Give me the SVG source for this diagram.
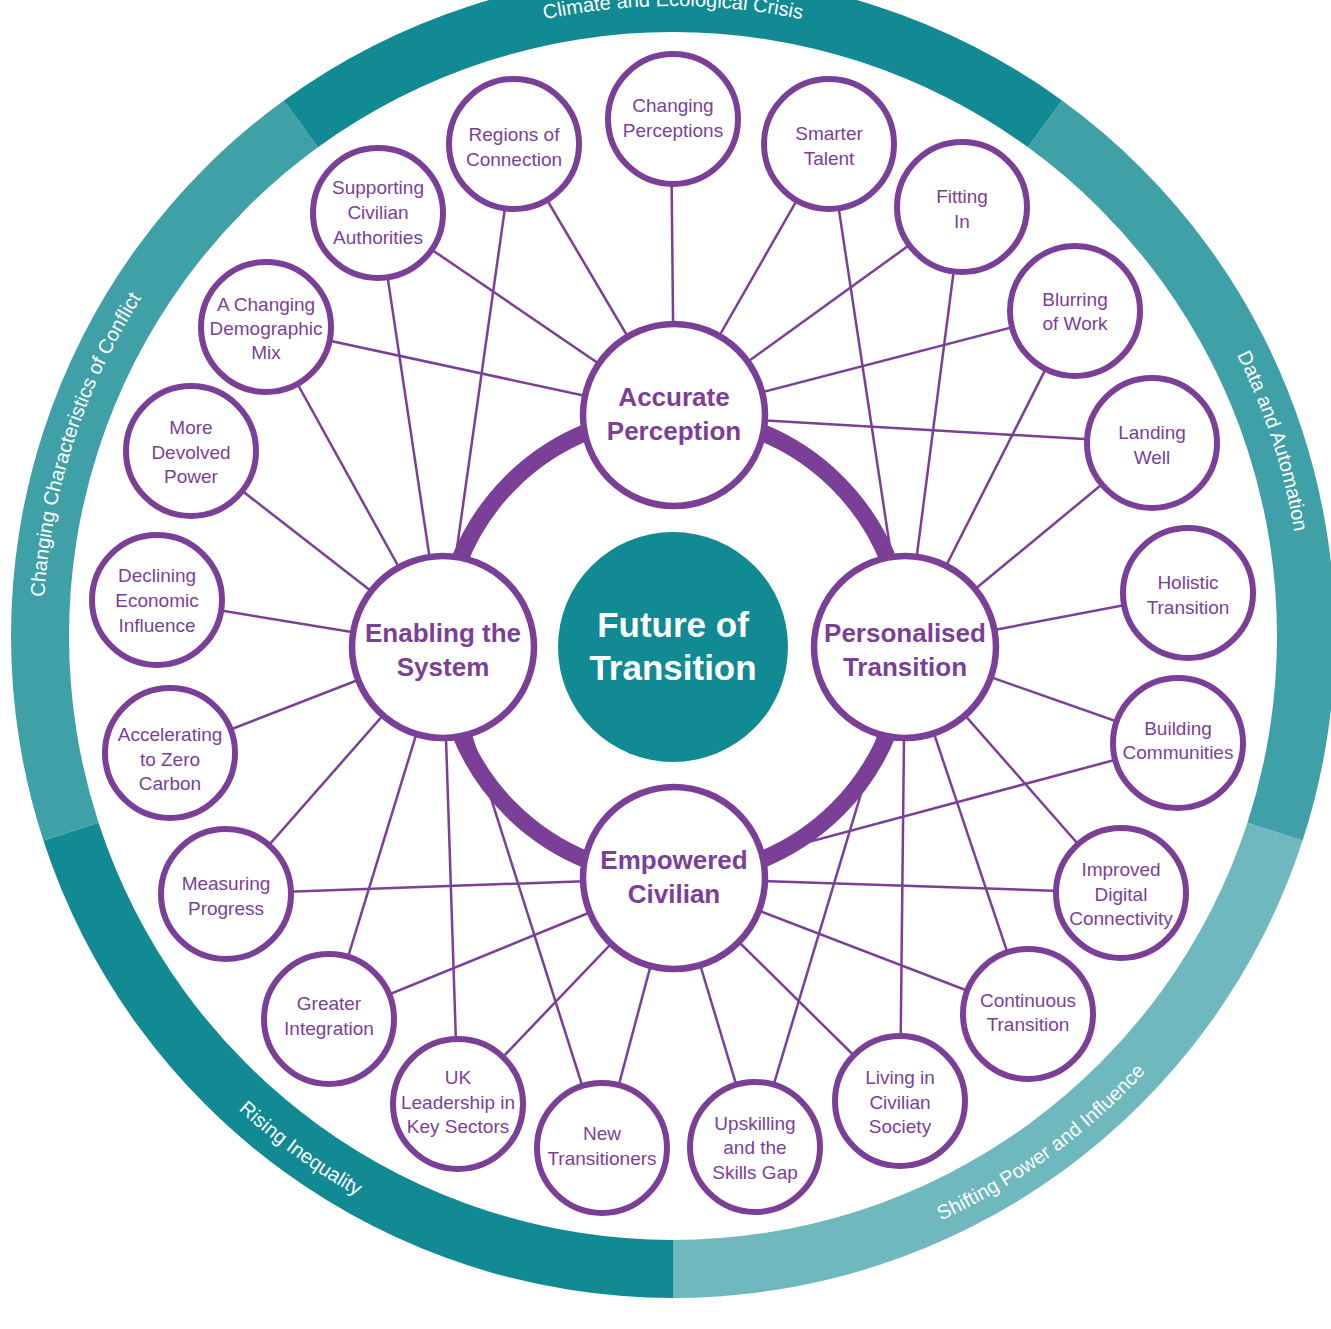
<svg xmlns="http://www.w3.org/2000/svg" width="1331" height="1329" viewBox="0 0 1331 1329">
<defs>
<style>
.seg-dark{fill:#118a94}
.seg-mid{fill:#40a0a8}
.seg-light{fill:#6eb8be}
.arc-label{font-family:"Liberation Sans",Arial,sans-serif;font-size:20px;fill:#ffffff}
.conn{stroke:#7b3f98;stroke-width:2.5;fill:none}
.node circle{fill:#ffffff;stroke:#7b3f98;stroke-width:6}
.node text{font-family:"Liberation Sans",Arial,sans-serif;font-size:19px;fill:#7b3f98;text-anchor:middle}
.hub circle{fill:#ffffff;stroke:#7b3f98;stroke-width:6.5}
.hub text{font-family:"Liberation Sans",Arial,sans-serif;font-size:26px;font-weight:bold;fill:#7b3f98;text-anchor:middle}
.core text{font-family:"Liberation Sans",Arial,sans-serif;font-size:35px;font-weight:bold;fill:#ffffff;text-anchor:middle}
</style>
<path id="p-top" d="M 302.69 126.32 A 630 630 0 0 1 1043.31 126.32"/>
<path id="p-right" d="M 1043.31 126.32 A 630 630 0 0 1 1272.17 830.68"/>
<path id="p-left" d="M 73.83 830.68 A 630 630 0 0 1 302.69 126.32"/>
<path id="p-br" d="M 673 1279 A 643 643 0 0 0 1284.53 834.70"/>
<path id="p-bl" d="M 61.47 834.70 A 643 643 0 0 0 673 1279"/>
</defs>
<rect width="1331" height="1329" fill="#ffffff"/>

<g id="outer-ring">
<path class="seg-light" d="M 1302.60 840.57 A 662 662 0 0 1 673 1298 L 673 1240 A 604 604 0 0 0 1247.44 822.65 Z"/>
<path class="seg-dark" d="M 673 1298 A 662 662 0 0 1 43.40 840.57 L 98.56 822.65 A 604 604 0 0 0 673 1240 Z"/>
<path class="seg-mid" d="M 43.40 840.57 A 662 662 0 0 1 283.88 100.43 L 317.97 147.35 A 604 604 0 0 0 98.56 822.65 Z"/>
<path class="seg-dark" d="M 283.88 100.43 A 662 662 0 0 1 1062.12 100.43 L 1028.03 147.35 A 604 604 0 0 0 317.97 147.35 Z"/>
<path class="seg-mid" d="M 1062.12 100.43 A 662 662 0 0 1 1302.60 840.57 L 1247.44 822.65 A 604 604 0 0 0 1028.03 147.35 Z"/>
<text class="arc-label"><textPath href="#p-top" startOffset="50%" text-anchor="middle">Climate and Ecological Crisis</textPath></text>
<text class="arc-label"><textPath href="#p-right" startOffset="50%" text-anchor="middle">Data and Automation</textPath></text>
<text class="arc-label"><textPath href="#p-left" startOffset="50%" text-anchor="middle">Changing Characteristics of Conflict</textPath></text>
<text class="arc-label"><textPath href="#p-br" startOffset="50%" text-anchor="middle">Shifting Power and Influence</textPath></text>
<text class="arc-label"><textPath href="#p-bl" startOffset="50%" text-anchor="middle">Rising Inequality</textPath></text>
</g>

<circle id="hub-ring" cx="674" cy="646" r="231" fill="none" stroke="#7b3f98" stroke-width="17"/>

<g id="connectors">
<!-- Accurate Perception -->
<line class="conn" x1="674" y1="415" x2="514" y2="144"/>
<line class="conn" x1="674" y1="415" x2="671" y2="119"/>
<line class="conn" x1="674" y1="415" x2="829" y2="144"/>
<line class="conn" x1="674" y1="415" x2="962" y2="207"/>
<line class="conn" x1="674" y1="415" x2="1075" y2="311"/>
<line class="conn" x1="674" y1="415" x2="1152" y2="443"/>
<line class="conn" x1="674" y1="415" x2="378" y2="213"/>
<line class="conn" x1="674" y1="415" x2="266" y2="327"/>
<!-- Enabling the System -->
<line class="conn" x1="443" y1="647" x2="514" y2="144"/>
<line class="conn" x1="443" y1="647" x2="378" y2="213"/>
<line class="conn" x1="443" y1="647" x2="266" y2="327"/>
<line class="conn" x1="443" y1="647" x2="191" y2="451"/>
<line class="conn" x1="443" y1="647" x2="157" y2="600"/>
<line class="conn" x1="443" y1="647" x2="170" y2="753"/>
<line class="conn" x1="443" y1="647" x2="226" y2="894"/>
<line class="conn" x1="443" y1="647" x2="329" y2="1019"/>
<line class="conn" x1="443" y1="647" x2="458" y2="1104"/>
<line class="conn" x1="443" y1="647" x2="602" y2="1148"/>
<!-- Personalised Transition -->
<line class="conn" x1="905" y1="647" x2="829" y2="144"/>
<line class="conn" x1="905" y1="647" x2="962" y2="207"/>
<line class="conn" x1="905" y1="647" x2="1075" y2="311"/>
<line class="conn" x1="905" y1="647" x2="1152" y2="443"/>
<line class="conn" x1="905" y1="647" x2="1188" y2="593"/>
<line class="conn" x1="905" y1="647" x2="1178" y2="743"/>
<line class="conn" x1="905" y1="647" x2="1121" y2="893"/>
<line class="conn" x1="905" y1="647" x2="1028" y2="1014"/>
<line class="conn" x1="905" y1="647" x2="900" y2="1101"/>
<line class="conn" x1="905" y1="647" x2="755" y2="1147"/>
<!-- Empowered Civilian -->
<line class="conn" x1="674" y1="878" x2="226" y2="894"/>
<line class="conn" x1="674" y1="878" x2="329" y2="1019"/>
<line class="conn" x1="674" y1="878" x2="458" y2="1104"/>
<line class="conn" x1="674" y1="878" x2="602" y2="1148"/>
<line class="conn" x1="674" y1="878" x2="755" y2="1147"/>
<line class="conn" x1="674" y1="878" x2="900" y2="1101"/>
<line class="conn" x1="674" y1="878" x2="1028" y2="1014"/>
<line class="conn" x1="674" y1="878" x2="1121" y2="893"/>
<line class="conn" x1="674" y1="878" x2="1178" y2="743"/>
</g>

<g id="core" class="core">
<circle cx="673" cy="647" r="115" fill="#118a94"/>
<text x="673" y="637">Future of</text>
<text x="673" y="680">Transition</text>
</g>

<g id="hub-accurate-perception" class="hub">
<circle cx="674" cy="415" r="91"/>
<text x="674" y="406">Accurate</text>
<text x="674" y="440">Perception</text>
</g>
<g id="hub-enabling-the-system" class="hub">
<circle cx="443" cy="647" r="91"/>
<text x="443" y="642">Enabling the</text>
<text x="443" y="676">System</text>
</g>
<g id="hub-personalised-transition" class="hub">
<circle cx="905" cy="647" r="91"/>
<text x="905" y="642">Personalised</text>
<text x="905" y="676">Transition</text>
</g>
<g id="hub-empowered-civilian" class="hub">
<circle cx="674" cy="878" r="91"/>
<text x="674" y="869">Empowered</text>
<text x="674" y="903">Civilian</text>
</g>

<g id="node-changing-perceptions" class="node">
<circle cx="673" cy="119" r="65"/>
<text x="673" y="112">Changing</text><text x="673" y="137">Perceptions</text>
</g>
<g id="node-regions-of-connection" class="node">
<circle cx="514" cy="144" r="65"/>
<text x="514" y="141">Regions of</text><text x="514" y="166">Connection</text>
</g>
<g id="node-smarter-talent" class="node">
<circle cx="829" cy="144" r="65"/>
<text x="829" y="140">Smarter</text><text x="829" y="165">Talent</text>
</g>
<g id="node-supporting-civilian-authorities" class="node">
<circle cx="378" cy="213" r="65"/>
<text x="378" y="194">Supporting</text><text x="378" y="219">Civilian</text><text x="378" y="244">Authorities</text>
</g>
<g id="node-fitting-in" class="node">
<circle cx="962" cy="207" r="65"/>
<text x="962" y="203">Fitting</text><text x="962" y="228">In</text>
</g>
<g id="node-changing-demographic-mix" class="node">
<circle cx="266" cy="327" r="65"/>
<text x="266" y="311">A Changing</text><text x="266" y="335">Demographic</text><text x="266" y="359">Mix</text>
</g>
<g id="node-blurring-of-work" class="node">
<circle cx="1075" cy="311" r="65"/>
<text x="1075" y="306">Blurring</text><text x="1075" y="330">of Work</text>
</g>
<g id="node-more-devolved-power" class="node">
<circle cx="191" cy="451" r="65"/>
<text x="191" y="434">More</text><text x="191" y="459">Devolved</text><text x="191" y="483">Power</text>
</g>
<g id="node-landing-well" class="node">
<circle cx="1152" cy="443" r="65"/>
<text x="1152" y="439">Landing</text><text x="1152" y="464">Well</text>
</g>
<g id="node-declining-economic-influence" class="node">
<circle cx="157" cy="600" r="65"/>
<text x="157" y="582">Declining</text><text x="157" y="607">Economic</text><text x="157" y="632">Influence</text>
</g>
<g id="node-holistic-transition" class="node">
<circle cx="1188" cy="593" r="65"/>
<text x="1188" y="589">Holistic</text><text x="1188" y="614">Transition</text>
</g>
<g id="node-accelerating-to-zero-carbon" class="node">
<circle cx="170" cy="753" r="65"/>
<text x="170" y="741">Accelerating</text><text x="170" y="766">to Zero</text><text x="170" y="790">Carbon</text>
</g>
<g id="node-building-communities" class="node">
<circle cx="1178" cy="743" r="65"/>
<text x="1178" y="735">Building</text><text x="1178" y="759">Communities</text>
</g>
<g id="node-measuring-progress" class="node">
<circle cx="226" cy="894" r="65"/>
<text x="226" y="890">Measuring</text><text x="226" y="915">Progress</text>
</g>
<g id="node-improved-digital-connectivity" class="node">
<circle cx="1121" cy="893" r="65"/>
<text x="1121" y="876">Improved</text><text x="1121" y="901">Digital</text><text x="1121" y="925">Connectivity</text>
</g>
<g id="node-greater-integration" class="node">
<circle cx="329" cy="1019" r="65"/>
<text x="329" y="1010">Greater</text><text x="329" y="1035">Integration</text>
</g>
<g id="node-continuous-transition" class="node">
<circle cx="1028" cy="1014" r="65"/>
<text x="1028" y="1007">Continuous</text><text x="1028" y="1031">Transition</text>
</g>
<g id="node-uk-leadership" class="node">
<circle cx="458" cy="1104" r="65"/>
<text x="458" y="1084">UK</text><text x="458" y="1109">Leadership in</text><text x="458" y="1133">Key Sectors</text>
</g>
<g id="node-living-in-civilian-society" class="node">
<circle cx="900" cy="1101" r="65"/>
<text x="900" y="1084">Living in</text><text x="900" y="1109">Civilian</text><text x="900" y="1133">Society</text>
</g>
<g id="node-new-transitioners" class="node">
<circle cx="602" cy="1148" r="65"/>
<text x="602" y="1140">New</text><text x="602" y="1165">Transitioners</text>
</g>
<g id="node-upskilling" class="node">
<circle cx="755" cy="1147" r="65"/>
<text x="755" y="1130">Upskilling</text><text x="755" y="1154">and the</text><text x="755" y="1179">Skills Gap</text>
</g>
</svg>
